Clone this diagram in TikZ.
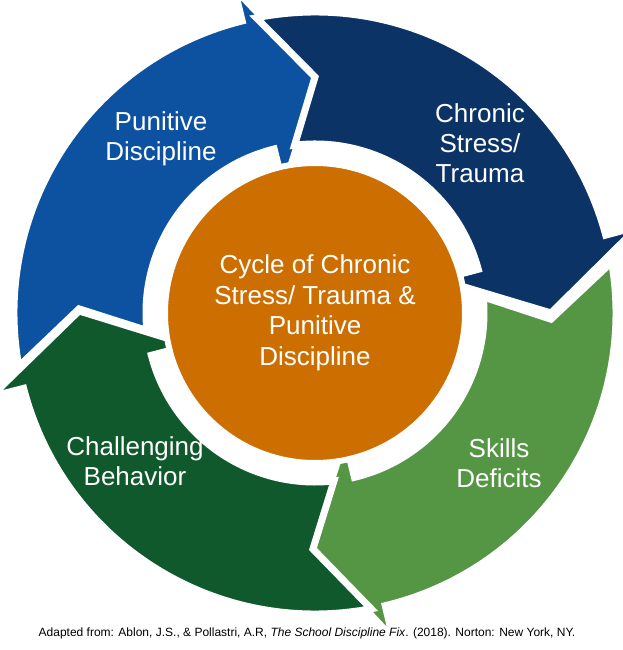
\documentclass[tikz,border=0pt]{standalone}
\usepackage{fontspec}
\setmainfont{Liberation Sans}
\usepackage{tikz}
\definecolor{punblue}{RGB}{12,82,161}
\definecolor{stressnavy}{RGB}{12,51,102}
\definecolor{skillgreen}{RGB}{85,150,69}
\definecolor{behavgreen}{RGB}{16,89,45}
\definecolor{coreorange}{RGB}{204,111,0}
% one segment of the ring, #1 colour, #2 angle of its tip
\newcommand{\ringarrow}[2]{%
  \filldraw[fill=#1, draw=white, line width=7pt]
    ({#2+90}:236pt) -- ({#2+101.23}:301pt)
    arc[start angle={#2+101.23}, end angle={#2+15}, radius=301pt]
    -- ({#2+15}:335pt) -- (#2:236pt) -- ({#2+15}:129pt) -- ({#2+15}:169pt)
    arc[start angle={#2+15}, end angle={#2+96.95}, radius=169pt] -- cycle;}

\begin{document}
\begin{tikzpicture}[
  x=1pt, y=1pt,
  label/.style={text=white, align=center, inner sep=0pt,
                font=\fontsize{26}{30}\selectfont},
  core/.style={circle, fill=coreorange, draw=white, line width=6pt,
               minimum size=300pt, inner sep=0pt, text=white, align=center,
               font=\fontsize{26}{30.5}\selectfont},
]
\useasboundingbox (-315,-337) rectangle (308,313);

% Ring
\ringarrow{punblue}{89}
\ringarrow{stressnavy}{0}
\ringarrow{skillgreen}{-91.5}
\ringarrow{behavgreen}{179.5}

% Labels
\node[label] (punitive) at (-154,174) {Punitive\\Discipline};
\node[label] (chronic) at (165,170) {Chronic\\Stress/\\Trauma};
\node[label] (skills) at (184,-150) {Skills\\Deficits};
\node[label] (challenging) at (-180,-148) {Challenging\\Behavior};

% Centre
\node[core] (core) at (0,0)
  {Cycle of Chronic\\Stress/ Trauma \&\\Punitive\\Discipline};

% Source
\node[font=\fontsize{12}{14}\selectfont, inner sep=0pt] (source) at (-8,-320)
  {Adapted from: Ablon, J.S., \& Pollastri, A.R, \textit{The School Discipline Fix}. (2018). Norton: New York, NY.};
\end{tikzpicture}
\end{document}
